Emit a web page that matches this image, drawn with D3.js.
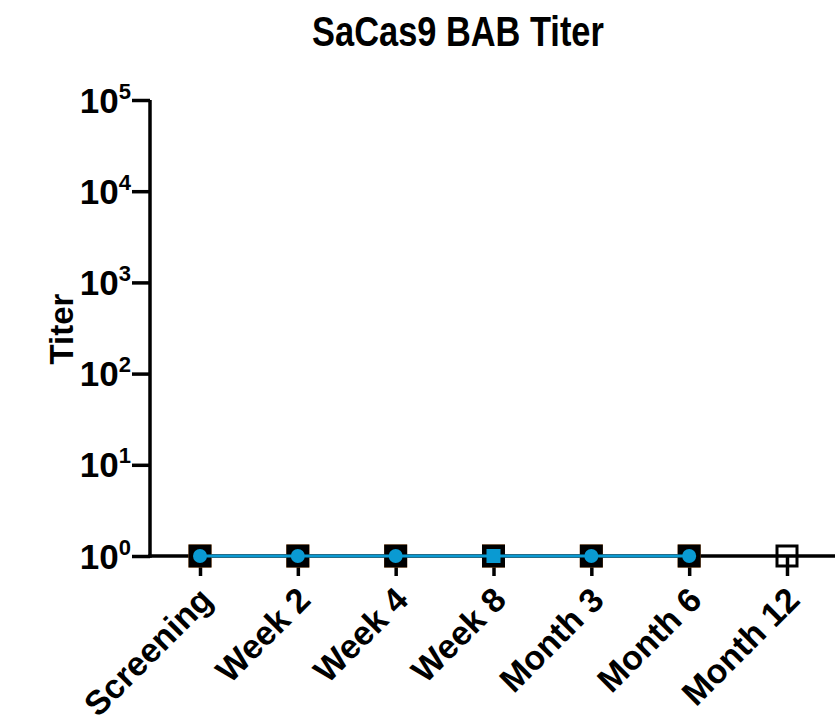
<!DOCTYPE html>
<html><head><meta charset="utf-8">
<script src="https://cdn.jsdelivr.net/npm/d3@7"></script>
<style>body{margin:0;background:#fff}svg{display:block}</style>
</head><body>
<svg id="c" width="835" height="724"></svg>
<script>
const categories = ["Screening","Week 2","Week 4","Week 8","Month 3","Month 6","Month 12"];
const orangeSquares = [1,1,1,1,1,1,null];
const blackSquares = [1,1,1,1,1,1,null];
const blueCircles = [1,1,1,null,1,1,null];
const blueSquares = [null,null,null,1,null,null,null];
const openSquares = [null,null,null,null,null,null,1];
const yTicks = [0,1,2,3,4,5];

const svg = d3.select("#c");
const font = "'Liberation Sans', Arial, sans-serif";
const x = d3.scalePoint().domain(categories).range([200, 787]);
const y = d3.scaleLog().domain([1, 1e5]).range([556, 100]);
const blue = "#0a9ad2", orange = "#e8832a";

// title
svg.append("text").attr("transform","translate(458,46) scale(0.8,1)").attr("text-anchor","middle")
  .attr("font-family", font).attr("font-weight","bold").attr("font-size", 43)
  .text("SaCas9 BAB Titer");
// y title
svg.append("text").attr("transform","translate(73,329) rotate(-90)").attr("text-anchor","middle")
  .attr("font-family", font).attr("font-weight","bold").attr("font-size", 33)
  .text("Titer");

// y axis
const yAxis = svg.append("g").attr("transform","translate(150,0)")
  .call(d3.axisLeft(y).tickValues(yTicks.map(e=>Math.pow(10,e))).tickSize(18).tickFormat(""));
yAxis.select(".domain").attr("stroke","#000").attr("stroke-width",3.5).attr("d","M0,100V557.75");
yAxis.selectAll(".tick line").attr("stroke","#000").attr("stroke-width",3.5);
yAxis.selectAll(".tick").each(function(d){
  const t = d3.select(this).append("text").attr("x",-19).attr("y",12)
    .attr("text-anchor","end").attr("fill","#000")
    .attr("font-family", font).attr("font-weight","bold").attr("font-size",35);
  t.append("tspan").text("10");
  t.append("tspan").attr("dy",-14).attr("font-size",22).text(Math.round(Math.log10(d)));
});

// x axis
const xAxis = svg.append("g").attr("transform","translate(0,556)")
  .call(d3.axisBottom(x).tickSize(20).tickFormat(""));
xAxis.select(".domain").remove();
xAxis.selectAll(".tick line").attr("stroke","#000").attr("stroke-width",3.5);
svg.append("line").attr("x1",148.25).attr("x2",835).attr("y1",556).attr("y2",556)
  .attr("stroke","#000").attr("stroke-width",3.5);
xAxis.selectAll(".tick").append("text")
  .attr("transform","translate(14,46) rotate(-45)")
  .attr("text-anchor","end").attr("fill","#000")
  .attr("font-family", font).attr("font-weight","bold").attr("font-size",34)
  .text(d=>d);

const pts = arr => categories.map((c,i)=>({c, v: arr[i]})).filter(d=>d.v!=null);

// orange squares (behind)
svg.append("g").selectAll("rect").data(pts(orangeSquares)).join("rect")
  .attr("x",d=>x(d.c)-11.5).attr("y",d=>y(d.v)-11.5).attr("width",23).attr("height",23)
  .attr("fill",orange);
// black squares
svg.append("g").selectAll("rect").data(pts(blackSquares)).join("rect")
  .attr("x",d=>x(d.c)-11.5).attr("y",d=>y(d.v)-11.5).attr("width",23).attr("height",23)
  .attr("fill","#000");
// open square
svg.append("g").selectAll("rect").data(pts(openSquares)).join("rect")
  .attr("x",d=>x(d.c)-10).attr("y",d=>y(d.v)-10).attr("width",20).attr("height",20)
  .attr("fill","none").attr("stroke","#000").attr("stroke-width",3);
// blue line
const lineData = categories.map((c,i)=>({c, v: blueCircles[i] ?? blueSquares[i]})).filter(d=>d.v!=null);
svg.append("path").datum(lineData)
  .attr("d", d3.line().x(d=>x(d.c)).y(d=>y(d.v)))
  .attr("fill","none").attr("stroke",blue).attr("stroke-width",3);
svg.append("g").selectAll("circle").data(pts(blueCircles)).join("circle")
  .attr("cx",d=>x(d.c)).attr("cy",d=>y(d.v)).attr("r",7).attr("fill",blue);
svg.append("g").selectAll("rect").data(pts(blueSquares)).join("rect")
  .attr("x",d=>x(d.c)-7).attr("y",d=>y(d.v)-7).attr("width",14).attr("height",14)
  .attr("fill",blue);
</script>
</body></html>
